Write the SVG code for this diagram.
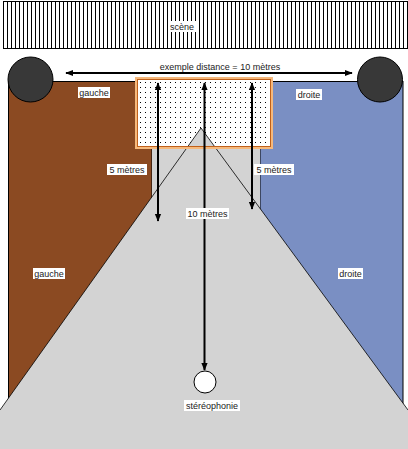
<svg xmlns="http://www.w3.org/2000/svg" width="408" height="449" viewBox="0 0 408 449">
<defs>
<style>
.lbl{font-family:"Liberation Sans",Arial,sans-serif;font-size:9px;fill:#222;text-anchor:middle}
.bg{fill:#fff}
.arr{stroke:#000;stroke-width:2;fill:none}
</style>
<pattern id="stripes" width="4" height="10" patternUnits="userSpaceOnUse" x="3" y="0">
<rect width="4" height="10" fill="#fff"/>
<rect x="0" y="0" width="1" height="10" fill="#000"/>
</pattern>
<pattern id="dots" width="5" height="5" patternUnits="userSpaceOnUse" x="138" y="80">
<rect width="5" height="5" fill="#fff"/>
<rect x="2" y="2" width="1" height="1" fill="#000"/>
</pattern>
<marker id="ah" viewBox="0 0 10 10" refX="9" refY="5" markerWidth="4" markerHeight="4" orient="auto-start-reverse">
<path d="M0,1 L10,5 L0,9 z" fill="#000"/>
</marker>
</defs>

<g id="scene">
<rect x="3.5" y="1.5" width="406" height="47" fill="url(#stripes)" stroke="#000" stroke-width="1"/>
<rect class="bg" x="168" y="21" width="28" height="11"/>
<text class="lbl" x="182" y="30">scène</text>
</g>

<g id="zone-gauche">
<rect x="8.5" y="81.5" width="143.5" height="330" fill="#8b4a22" stroke="#000" stroke-width="1"/>
</g>
<g id="zone-droite">
<rect x="260" y="81.5" width="143" height="330" fill="#7a8fc3" stroke="#000" stroke-width="1"/>
</g>
<g id="zone-centre">
<rect x="152" y="82" width="108" height="180" fill="#d3d3d3"/>
</g>

<g id="zone-stereo">
<rect x="136.5" y="78.5" width="135" height="69" fill="url(#dots)"/>
</g>

<g id="zone-perspective">
<path d="M201,128 L0,410 L0,449 L408,449 L408,410 Z" fill="#d3d3d3"/>
<path d="M0,410 L201,128 L408,410" fill="none" stroke="#000" stroke-width="0.8"/>
</g>

<g id="zone-stereo-bord">
<rect x="136.5" y="78.5" width="135" height="69" fill="none" stroke="#f6b97c" stroke-width="3"/>
<rect x="137.5" y="79.5" width="133" height="67" fill="none" stroke="#c0601a" stroke-width="1"/>
</g>

<g id="hp-gauche">
<circle cx="30.5" cy="79.5" r="22.5" fill="#383838" stroke="#000" stroke-width="1"/>
</g>
<g id="hp-droite">
<circle cx="380" cy="79.5" r="22.5" fill="#383838" stroke="#000" stroke-width="1"/>
</g>

<g id="auditeur">
<circle cx="205" cy="382" r="11" fill="#fff" stroke="#000" stroke-width="1"/>
</g>

<g id="connectors">
<line class="arr" x1="66" y1="73" x2="352" y2="73" marker-start="url(#ah)" marker-end="url(#ah)"/>
<line class="arr" x1="158" y1="83" x2="158" y2="221" marker-start="url(#ah)" marker-end="url(#ah)"/>
<line class="arr" x1="204.5" y1="83" x2="204.5" y2="370" marker-start="url(#ah)" marker-end="url(#ah)"/>
<line class="arr" x1="252" y1="83" x2="252" y2="209" marker-start="url(#ah)" marker-end="url(#ah)"/>
</g>

<g id="labels">
<text class="lbl" x="220" y="70">exemple distance = 10 mètres</text>
<rect class="bg" x="78" y="87" width="32" height="11"/>
<text class="lbl" x="94" y="96">gauche</text>
<rect class="bg" x="296" y="89" width="26" height="11"/>
<text class="lbl" x="309" y="98">droite</text>
<rect class="bg" x="107" y="164" width="40" height="11"/>
<text class="lbl" x="127" y="173">5 mètres</text>
<rect class="bg" x="254" y="164" width="40" height="11"/>
<text class="lbl" x="274" y="173">5 mètres</text>
<rect class="bg" x="186" y="208" width="43" height="11"/>
<text class="lbl" x="207.5" y="217">10 mètres</text>
<rect class="bg" x="33" y="268" width="32" height="11"/>
<text class="lbl" x="49" y="277">gauche</text>
<rect class="bg" x="338" y="268" width="25" height="11"/>
<text class="lbl" x="350.5" y="277">droite</text>
<rect class="bg" x="184" y="400" width="56" height="11"/>
<text class="lbl" x="212" y="409">stéréophonie</text>
</g>
</svg>
